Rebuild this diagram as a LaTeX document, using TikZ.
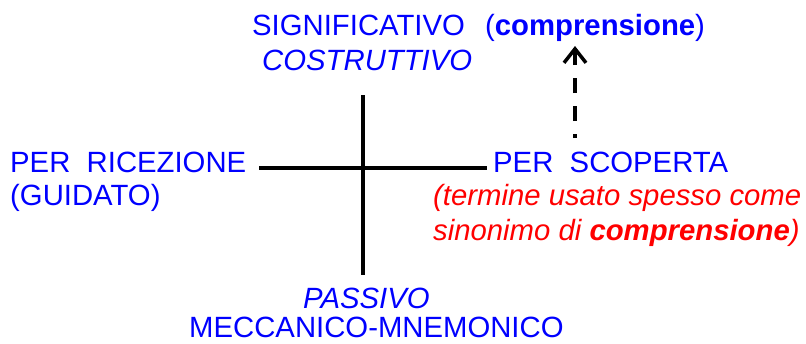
\documentclass[tikz,border=0pt]{standalone}
\usepackage{fontspec}
\setmainfont{Liberation Sans}
\usetikzlibrary{arrows.meta}
\definecolor{tblue}{RGB}{0,0,255}
\definecolor{tred}{RGB}{255,0,0}
\tikzset{
  lbl/.style={inner sep=0pt, anchor=base west, font=\fontsize{29.3}{33}\selectfont},
  axis/.style={line width=4pt, black},
  arr/.style={line width=4pt, black, dash pattern=on 15pt off 13pt, dash phase=11pt, -{Straight Barb[length=14pt,width=22pt,line width=3.5pt]}}
}
\begin{document}
\begin{tikzpicture}[x=1pt,y=-1pt]
\useasboundingbox (0,0) rectangle (806,343);
\node[lbl, text=tblue] (sig) at (252,35) {SIGNIFICATIVO\ \ \hspace{4pt}(\textbf{comprensione})};
\node[lbl, text=tblue] (cos) at (262,70) {\itshape COSTRUTTIVO};
\node[lbl, text=tblue] (ric) at (10,172) {PER\ \ RICEZIONE};
\node[lbl, text=tblue] (gui) at (10,205) {(GUIDATO)};
\node[lbl, text=tblue] (sco) at (493,172) {PER\ \ SCOPERTA};
\node[lbl, text=tred] (ter) at (433,205) {\itshape (termine usato spesso come};
\node[lbl, text=tred] (sin) at (433,240) {\itshape sinonimo di \textbf{comprensione})};
\node[lbl, text=tblue] (pas) at (303,308) {\itshape PASSIVO};
\node[lbl, text=tblue] (mec) at (189,337) {MECCANICO-MNEMONICO};
\coordinate (hl) at (259,168);
\coordinate (hr) at (487,168);
\coordinate (vt) at (363,95);
\coordinate (vb) at (363,275);
\coordinate (as) at (575,138);
\coordinate (ae) at (575,46);
\draw[axis] (hl) -- (hr);
\draw[axis] (vt) -- (vb);
\draw[arr] (as) -- (ae);
\end{tikzpicture}
\end{document}
